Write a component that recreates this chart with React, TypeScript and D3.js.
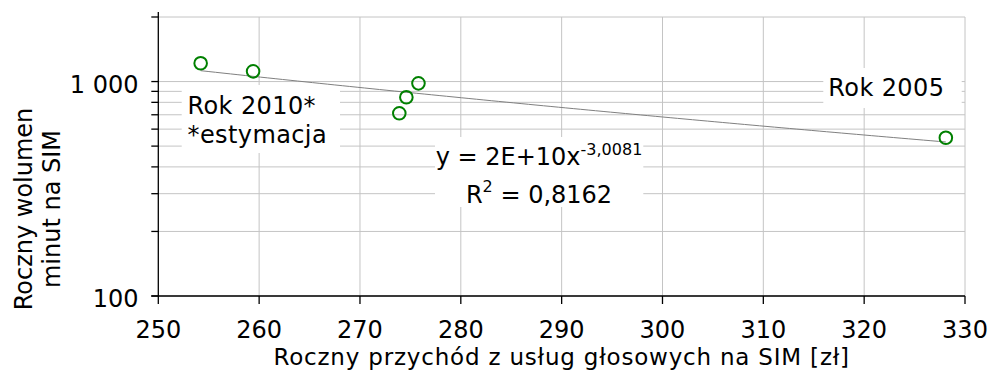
import React from "react";
import * as d3 from "d3";

// Annual voice revenue per SIM [zł] and annual minutes per SIM
const revenue = [328.1, 275.8, 274.6, 273.9, 259.4, 254.2];
const minutes = [547, 981, 845, 711, 1116, 1217];

const xTickValues = [250, 260, 270, 280, 290, 300, 310, 320, 330];
const yMajorValues = [100, 1000];
const yMajorLabels = ["100", "1 000"];
const yGridValues = [100, 200, 300, 400, 500, 600, 700, 800, 900, 1000, 2000];

const xTitle = "Roczny przychód z usług głosowych na SIM [zł]";
const yTitleLines = ["Roczny wolumen", "minut na SIM"];
const label2005 = "Rok 2005";
const label2010 = ["Rok 2010*", "*estymacja"];
const eqMain = "y = 2E+10x";
const eqExp = "-3,0081";
const r2Value = " = 0,8162";

const W = 990;
const H = 372;
const FONT = "'DejaVu Sans', Verdana, sans-serif";
const GRID = "#c4c4c4";

// Power fit y = a * x^b via least squares in log-log space
function powerFit(xs: number[], ys: number[]) {
  const lx = xs.map(Math.log);
  const ly = ys.map(Math.log);
  const mx = d3.mean(lx) as number;
  const my = d3.mean(ly) as number;
  let sxy = 0;
  let sxx = 0;
  lx.forEach((v, i) => {
    sxy += (v - mx) * (ly[i] - my);
    sxx += (v - mx) * (v - mx);
  });
  const b = sxy / sxx;
  const a = Math.exp(my - b * mx);
  return { a, b };
}

export default function App() {
  const x = d3.scaleLinear().domain([250, 330]).range([158.3, 965]);
  const y = d3.scaleLog().domain([100, 2000]).range([296, 17]);

  const { a, b } = powerFit(revenue, minutes);
  const [xMin, xMax] = d3.extent(revenue) as [number, number];
  const trendPts = d3.range(0, 101).map((i) => {
    const xv = xMin + ((xMax - xMin) * i) / 100;
    return [xv, a * Math.pow(xv, b)] as [number, number];
  });
  const trendPath = d3
    .line<[number, number]>()
    .x((d) => x(d[0]))
    .y((d) => y(d[1]))(trendPts);

  const x0 = x(250);
  const x1 = x(330);
  const yBottom = y(100);
  const yTop = y(2000);

  return (
    <svg
      width={W}
      height={H}
      style={{ position: "absolute", left: 0, top: 0, background: "#fff" }}
      fontFamily={FONT}
    >
      <rect width={W} height={H} fill="#fff" />

      {/* horizontal gridlines (major and minor) */}
      {yGridValues.map((v) => (
        <line key={"hg" + v} x1={x0} x2={x1} y1={y(v)} y2={y(v)} stroke={GRID} strokeWidth={1} />
      ))}
      {/* vertical gridlines */}
      {xTickValues.slice(1).map((v) => (
        <line key={"vg" + v} x1={x(v)} x2={x(v)} y1={yTop} y2={yBottom} stroke={GRID} strokeWidth={1} />
      ))}

      {/* label backgrounds */}
      <rect x={181.7} y={85} width={158.3} height={68} fill="#fff" />
      <rect x={823.3} y={68} width={138.4} height={40} fill="#fff" />
      <rect x={435} y={137} width={208.3} height={70} fill="#fff" />

      {/* y axis */}
      <line x1={x0} x2={x0} y1={12} y2={yBottom} stroke="#000" strokeWidth={1.3} />
      {yGridValues.map((v) => (
        <line key={"yt" + v} x1={x0 - 7} x2={x0} y1={y(v)} y2={y(v)} stroke="#000" strokeWidth={1.3} />
      ))}
      {yMajorValues.map((v, i) => (
        <text key={"yl" + v} x={138.5} y={y(v) + 11} textAnchor="end" fontSize={24} fill="#000">
          {yMajorLabels[i]}
        </text>
      ))}

      {/* x axis */}
      <line x1={x0 - 7} x2={x1} y1={yBottom} y2={yBottom} stroke="#000" strokeWidth={1.3} />
      {xTickValues.map((v) => (
        <g key={"xt" + v}>
          <line x1={x(v)} x2={x(v)} y1={yBottom} y2={yBottom + 8} stroke="#000" strokeWidth={1.3} />
          <text x={x(v)} y={338} textAnchor="middle" fontSize={24} fill="#000">
            {v}
          </text>
        </g>
      ))}

      {/* power trendline */}
      <path d={trendPath || ""} fill="none" stroke="#808080" strokeWidth={1} />

      {/* data points */}
      {revenue.map((r, i) => (
        <circle key={"pt" + i} cx={x(r)} cy={y(minutes[i])} r={6.3} fill="none" stroke="#008000" strokeWidth={2} />
      ))}

      {/* annotations */}
      <text x={828.3} y={96} fontSize={24} letterSpacing={0.4} fill="#000">
        {label2005}
      </text>
      <text x={187.5} y={114.3} fontSize={24} letterSpacing={0.4} fill="#000">
        {label2010[0]}
      </text>
      <text x={187.5} y={143.3} fontSize={24} letterSpacing={0.4} fill="#000">
        {label2010[1]}
      </text>
      <text x={539} y={165} textAnchor="middle" fontSize={24} fill="#000">
        <tspan>{eqMain}</tspan>
        <tspan fontSize={16} dy={-10}>
          {eqExp}
        </tspan>
      </text>
      <text x={539} y={202.7} textAnchor="middle" fontSize={24} fill="#000">
        <tspan>R</tspan>
        <tspan fontSize={16} dy={-11}>
          2
        </tspan>
        <tspan dy={11}>{r2Value}</tspan>
      </text>

      {/* axis titles */}
      <text x={(x0 + x1) / 2} y={365} textAnchor="middle" fontSize={23} letterSpacing={0.8} fill="#000">
        {xTitle}
      </text>
      <g transform="translate(0,209) rotate(-90)">
        <text x={0} y={32} textAnchor="middle" fontSize={24} fill="#000">
          {yTitleLines[0]}
        </text>
        <text x={0} y={60} textAnchor="middle" fontSize={24} fill="#000">
          {yTitleLines[1]}
        </text>
      </g>
    </svg>
  );
}
